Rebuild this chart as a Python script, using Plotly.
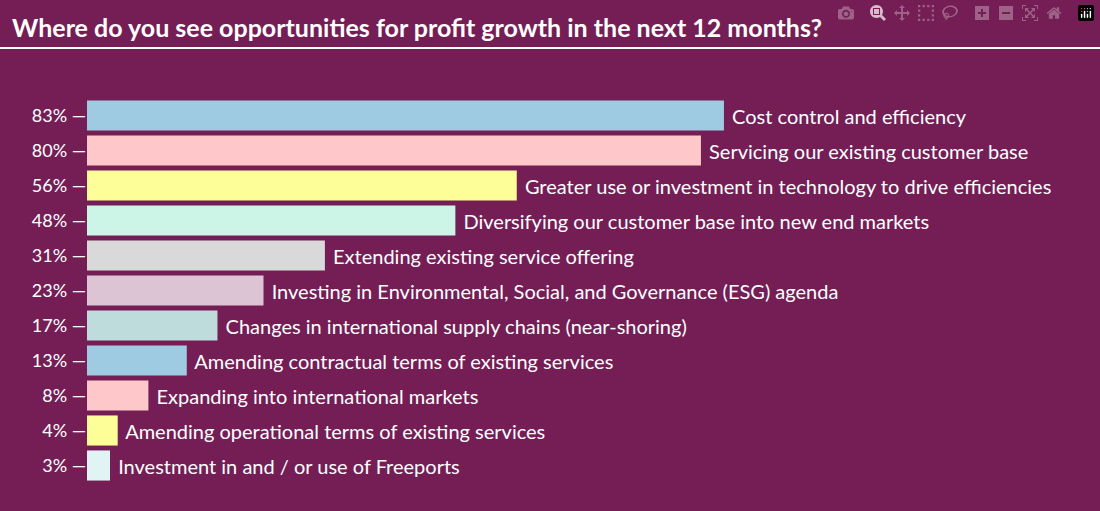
import plotly.graph_objects as go

# Data
answers = [
    "Cost control and efficiency",
    "Servicing our existing customer base",
    "Greater use or investment in technology to drive efficiencies",
    "Diversifying our customer base into new end markets",
    "Extending existing service offering",
    "Investing in Environmental, Social, and Governance (ESG) agenda",
    "Changes in international supply chains (near-shoring)",
    "Amending contractual terms of existing services",
    "Expanding into international markets",
    "Amending operational terms of existing services",
    "Investment in and / or use of Freeports",
]
shares = [83, 80, 56, 48, 31, 23, 17, 13, 8, 4, 3]
bar_colors = ["#9fcbe2", "#fec8ca", "#fefe99", "#ccf5e8", "#d9d9d9", "#dcc4d4",
              "#bedcdc", "#9fcbe2", "#fec8ca", "#fefe99", "#e0f5f3"]

BG = "#741e55"

fig = go.Figure(go.Bar(
    y=answers, x=shares, orientation="h",
    marker=dict(color=bar_colors, line=dict(width=0)),
    text=[" " + a for a in answers], textposition="outside",
    textfont=dict(color="white", size=20, family="Lato"),
    cliponaxis=False, hoverinfo="skip",
))

fig.update_layout(
    width=1100, height=511,
    paper_bgcolor=BG, plot_bgcolor=BG,
    margin=dict(l=87, r=0, t=98, b=28),
    showlegend=False, bargap=0.14,
    font=dict(family="Lato", color="white"),
    xaxis=dict(range=[0, 132], visible=False),
    yaxis=dict(autorange="reversed", showgrid=False, zeroline=False,
               tickmode="array", tickvals=answers,
               ticktext=[f"{s}% —" for s in shares],
               tickfont=dict(size=18, color="white", family="Lato"), ticklen=0),
    title=dict(text="<b>Where do you see opportunities for profit growth in the next 12 months?</b>",
               x=0.011, xanchor="left", y=0.945, yanchor="middle",
               font=dict(size=25, color="white", family="Lato")),
    shapes=[dict(type="line", xref="paper", yref="paper", x0=-0.09, x1=1.0,
                 y0=1.13, y1=1.13, line=dict(color="white", width=2))],
)

fig.write_html("out.html", post_script="document.body.style.margin='0';document.body.style.background='#741e55';")
